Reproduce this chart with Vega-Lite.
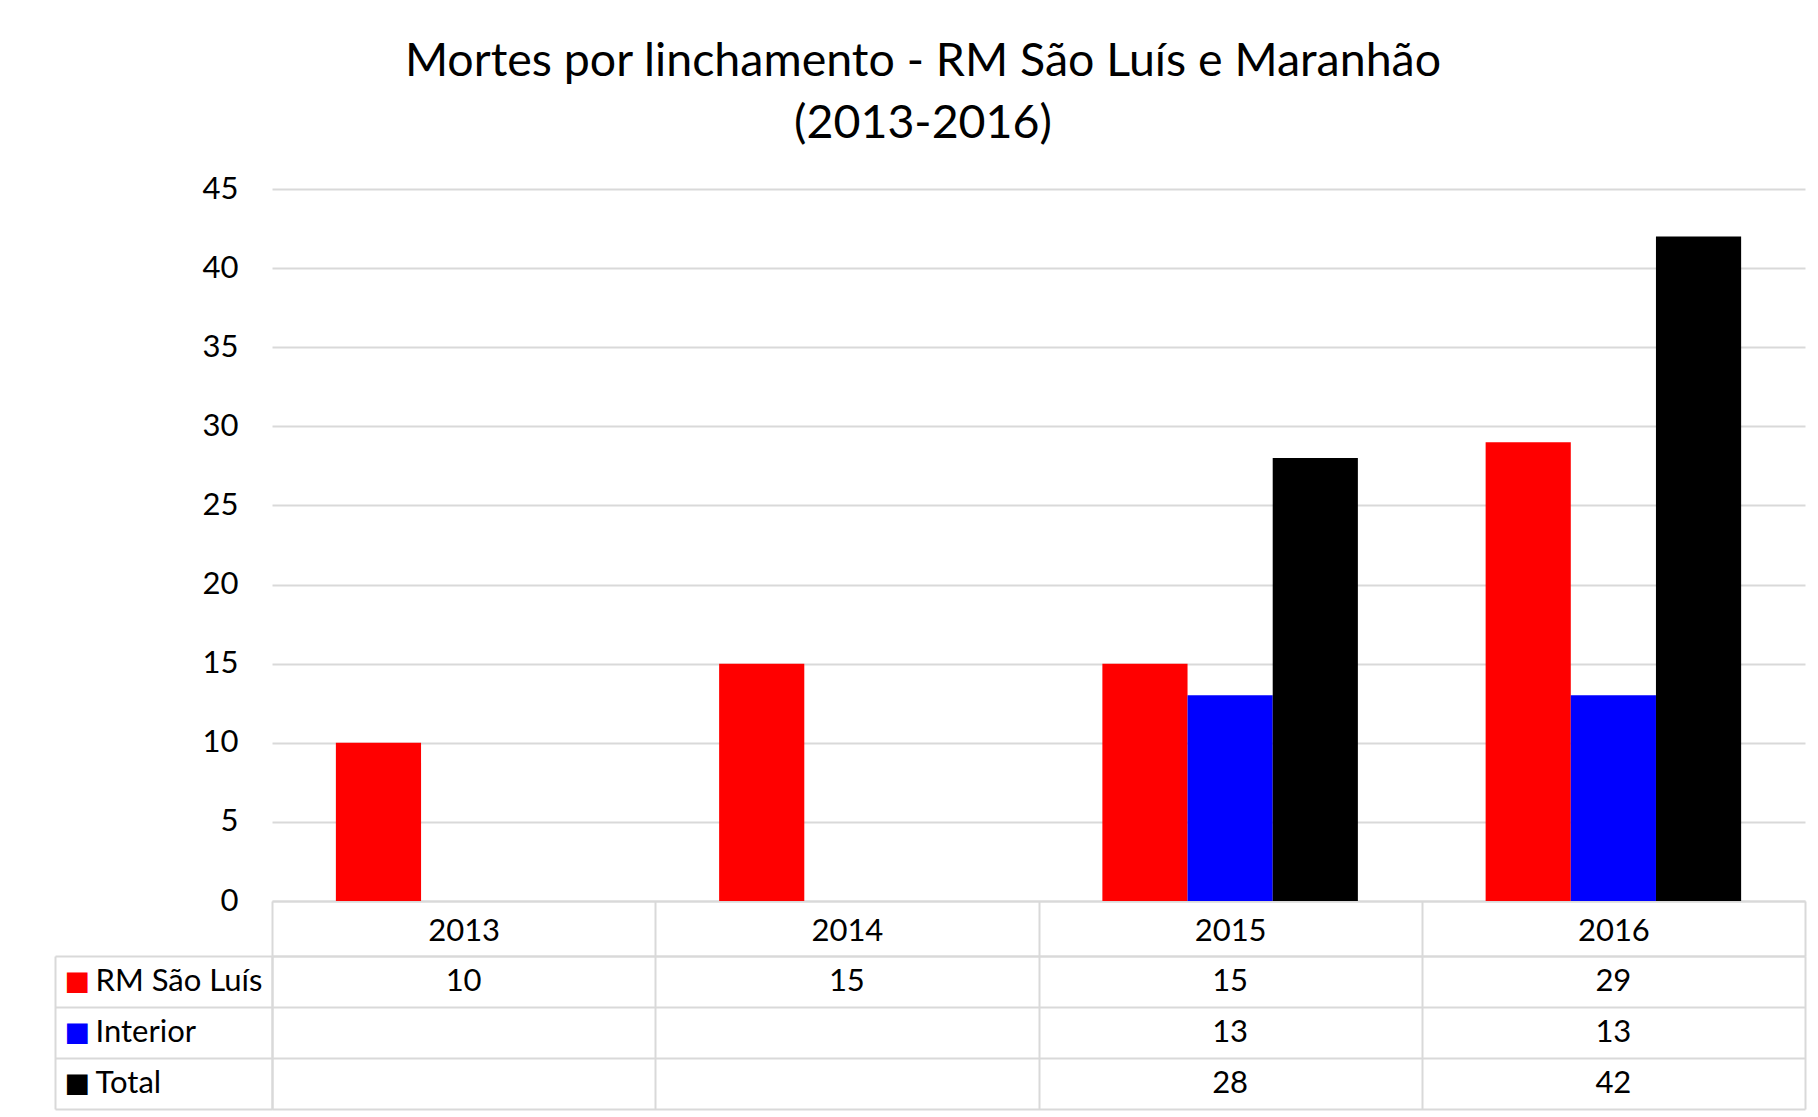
{
  "$schema": "https://vega.github.io/schema/vega-lite/v6.json",
  "padding": {"left": 54, "top": 38, "right": 12, "bottom": 6},
  "background": "white",
  "title": {
    "text": ["Mortes por linchamento - RM São Luís e Maranhão", "(2013-2016)"],
    "font": "Lato", "fontSize": 46.5, "fontWeight": "normal", "color": "black",
    "anchor": "middle", "frame": "bounds", "lineHeight": 62, "offset": 26, "dx": -7
  },
  "datasets": {
    "mortes": [
      {"year": "2013", "serie": "RM São Luís", "value": 10},
      {"year": "2014", "serie": "RM São Luís", "value": 15},
      {"year": "2015", "serie": "RM São Luís", "value": 15},
      {"year": "2015", "serie": "Interior", "value": 13},
      {"year": "2015", "serie": "Total", "value": 28},
      {"year": "2016", "serie": "RM São Luís", "value": 29},
      {"year": "2016", "serie": "Interior", "value": 13},
      {"year": "2016", "serie": "Total", "value": 42}
    ]
  },
  "bounds": "flush",
  "spacing": 55,
  "resolve": {"scale": {"x": "independent", "y": "independent", "color": "independent"}},
  "vconcat": [
    {
      "width": 1533,
      "height": 712,
      "data": {"name": "mortes"},
      "mark": {"type": "bar"},
      "encoding": {
        "x": {
          "field": "year", "type": "nominal",
          "scale": {"domain": ["2013", "2014", "2015", "2016"], "paddingInner": 0, "paddingOuter": 0},
          "axis": {"labels": false, "ticks": false, "domain": true, "domainColor": "#d9d9d9", "domainWidth": 2, "title": null, "grid": false}
        },
        "xOffset": {
          "field": "serie", "type": "nominal",
          "scale": {"domain": ["RM São Luís", "Interior", "Total"], "paddingInner": 0, "paddingOuter": 0.75}
        },
        "y": {
          "field": "value", "type": "quantitative",
          "scale": {"domain": [0, 45], "nice": false, "zero": true},
          "axis": {
            "values": [0, 5, 10, 15, 20, 25, 30, 35, 40, 45],
            "grid": true, "gridColor": "#d9d9d9", "gridWidth": 2,
            "domain": false, "ticks": false, "labelPadding": 34,
            "labelFont": "Lato", "labelFontSize": 31, "labelColor": "black", "title": null
          }
        },
        "color": {
          "field": "serie", "type": "nominal",
          "scale": {"domain": ["RM São Luís", "Interior", "Total"], "range": ["#ff0000", "#0000ff", "#000000"]},
          "legend": null
        }
      }
    },
    {
      "width": 1533,
      "height": 153,
      "data": {"name": "mortes"},
      "resolve": {"axis": {"y": "independent"}},
      "layer": [
        {
          "mark": {"type": "text", "font": "Lato", "fontSize": 31, "color": "black", "align": "center", "baseline": "middle"},
          "encoding": {
            "x": {
              "field": "year", "type": "nominal",
              "scale": {"domain": ["2013", "2014", "2015", "2016"], "paddingInner": 0, "paddingOuter": 0},
              "axis": {
                "orient": "top", "title": null, "tickBand": "extent",
                "grid": true, "gridColor": "#d9d9d9", "gridWidth": 2,
                "ticks": true, "tickSize": 55, "tickColor": "#d9d9d9", "tickWidth": 2,
                "domain": true, "domainColor": "#d9d9d9", "domainWidth": 2,
                "labelAngle": 0, "labelFont": "Lato", "labelFontSize": 31, "labelColor": "black",
                "labelBaseline": "alphabetic", "labelPadding": -39
              }
            },
            "y": {
              "field": "serie", "type": "nominal",
              "scale": {"domain": ["RM São Luís", "Interior", "Total"], "paddingInner": 0, "paddingOuter": 0},
              "axis": {
                "orient": "left", "title": null, "tickBand": "extent",
                "grid": true, "gridColor": "#d9d9d9", "gridWidth": 2,
                "ticks": true, "tickSize": 217, "tickColor": "#d9d9d9", "tickWidth": 2,
                "domain": true, "domainColor": "#d9d9d9", "domainWidth": 2,
                "labelAlign": "left", "labelBaseline": "middle", "labelPadding": -40,
                "labelFont": "Lato", "labelFontSize": 31, "labelColor": "black"
              }
            },
            "text": {"field": "value", "type": "quantitative"}
          }
        },
        {
          "mark": {"type": "point", "opacity": 0},
          "encoding": {
            "x": {"field": "year", "type": "nominal"},
            "y": {
              "field": "serie", "type": "nominal",
              "scale": {"domain": ["RM São Luís", "Interior", "Total"], "paddingInner": 0, "paddingOuter": 0},
              "axis": {
                "orient": "left", "offset": 217, "title": null,
                "grid": false, "ticks": false,
                "domain": true, "domainColor": "#d9d9d9", "domainWidth": 2,
                "labelExpr": "'■'",
                "labelAlign": "left", "labelBaseline": "middle", "labelPadding": -9,
                "labelFont": "DejaVu Sans", "labelFontSize": 27,
                "labelColor": {
                  "condition": [
                    {"test": "datum.value == 'RM São Luís'", "value": "#ff0000"},
                    {"test": "datum.value == 'Interior'", "value": "#0000ff"}
                  ],
                  "value": "#000000"
                }
              }
            }
          }
        }
      ]
    }
  ],
  "config": {
    "view": {"stroke": null},
    "font": "Lato"
  }
}
